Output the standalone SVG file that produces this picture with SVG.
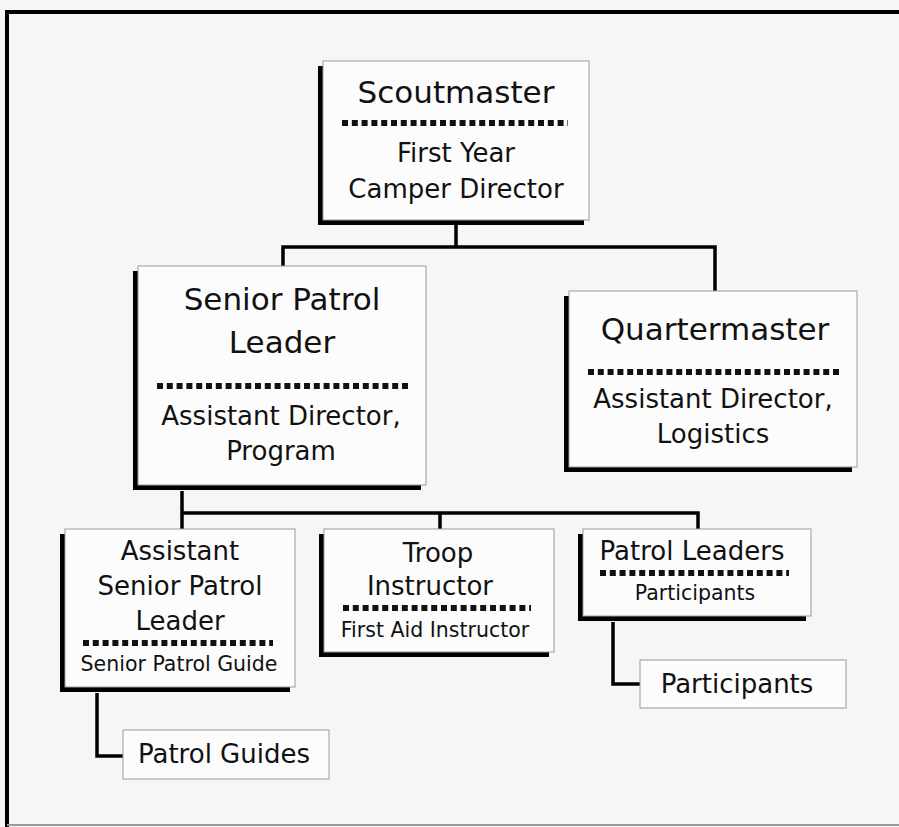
<svg xmlns="http://www.w3.org/2000/svg" width="899" height="827" viewBox="0 0 899 827">
<style>
.bg{fill:#f6f6f6}
.box{fill:#fcfcfc;stroke:#9a9a9a;stroke-width:1}
.sh{fill:#000}
.t{font-family:"DejaVu Sans",Verdana,sans-serif;fill:#111;text-anchor:middle}
.l{font-size:31px}
.m{font-size:26px}
.s{font-size:20.5px}
.dot{stroke:#111;stroke-width:6;stroke-dasharray:6 3.8;fill:none}
.c{stroke:#000;stroke-width:3.5;fill:none}
.frame{stroke:#000;stroke-width:4;fill:none}
</style>
<rect class="bg" x="0" y="0" width="899" height="827"/>
<path class="frame" d="M7 827 V12 H899"/>
<line x1="7" y1="825" x2="899" y2="825" stroke="#9a9a9a" stroke-width="2"/>

<g id="connectors">
<path class="c" d="M456 225 V247 M283 266 V247 H715 V291"/>
<path class="c" d="M182 491 V529 M182 513 H698 V529 M440 513 V529"/>
<path class="c" d="M97 693 V756 H123"/>
<path class="c" d="M613 622 V684 H640"/>
</g>

<g id="scoutmaster">
<rect class="sh" x="318" y="66" width="266" height="159"/>
<rect class="box" x="323" y="61" width="266" height="159"/>
<text class="t l" x="456" y="103">Scoutmaster</text>
<line class="dot" x1="342" y1="123" x2="568" y2="123"/>
<text class="t m" x="456" y="162">First Year</text>
<text class="t m" x="456" y="198">Camper Director</text>
</g>

<g id="senior-patrol-leader">
<rect class="sh" x="133" y="271" width="288" height="219"/>
<rect class="box" x="138" y="266" width="288" height="219"/>
<text class="t l" x="282" y="310">Senior Patrol</text>
<text class="t l" x="282" y="353">Leader</text>
<line class="dot" x1="157" y1="386" x2="410" y2="386"/>
<text class="t m" x="281" y="425">Assistant Director,</text>
<text class="t m" x="281" y="460">Program</text>
</g>

<g id="quartermaster">
<rect class="sh" x="564" y="296" width="288" height="176"/>
<rect class="box" x="569" y="291" width="288" height="176"/>
<text class="t l" x="715" y="340">Quartermaster</text>
<line class="dot" x1="588" y1="372" x2="841" y2="372"/>
<text class="t m" x="713" y="408">Assistant Director,</text>
<text class="t m" x="713" y="443">Logistics</text>
</g>

<g id="assistant-senior-patrol-leader">
<rect class="sh" x="60" y="534" width="230" height="158"/>
<rect class="box" x="65" y="529" width="230" height="158"/>
<text class="t m" x="180" y="560">Assistant</text>
<text class="t m" x="180" y="595">Senior Patrol</text>
<text class="t m" x="180" y="630">Leader</text>
<line class="dot" x1="83" y1="643" x2="273" y2="643"/>
<text class="t s" x="179" y="671">Senior Patrol Guide</text>
</g>

<g id="troop-instructor">
<rect class="sh" x="319" y="534" width="230" height="123"/>
<rect class="box" x="324" y="529" width="230" height="123"/>
<text class="t m" x="438" y="562">Troop</text>
<text class="t m" x="430" y="595">Instructor</text>
<line class="dot" x1="343" y1="608" x2="531" y2="608"/>
<text class="t s" x="435" y="637">First Aid Instructor</text>
</g>

<g id="patrol-leaders">
<rect class="sh" x="578" y="534" width="228" height="87"/>
<rect class="box" x="583" y="529" width="228" height="87"/>
<text class="t m" x="692" y="560">Patrol Leaders</text>
<line class="dot" x1="600" y1="573" x2="789" y2="573"/>
<text class="t s" x="695" y="600">Participants</text>
</g>

<g id="patrol-guides">
<rect class="box" x="123" y="730" width="206" height="49"/>
<text class="t m" x="224" y="763">Patrol Guides</text>
</g>

<g id="participants">
<rect class="box" x="640" y="660" width="206" height="48"/>
<text class="t m" x="737" y="693">Participants</text>
</g>
</svg>
